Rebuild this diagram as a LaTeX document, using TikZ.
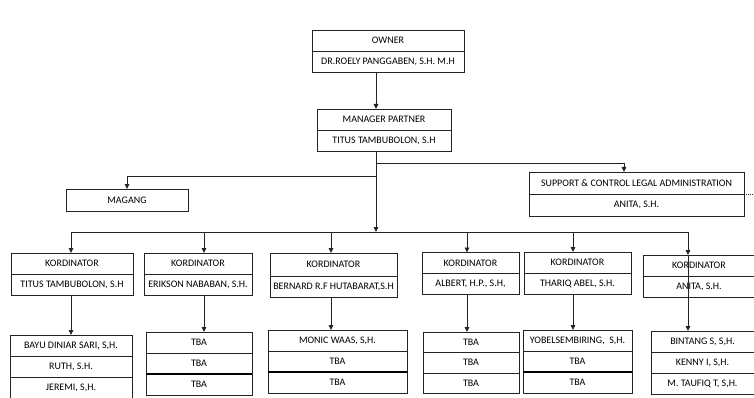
\documentclass[tikz,border=0pt]{standalone}
\usepackage{fontspec}
\setmainfont{Carlito}
\usetikzlibrary{positioning,arrows.meta}
\definecolor{lineclr}{RGB}{35,35,35}
\tikzset{
  row/.style={draw=lineclr, line width=0.9pt, minimum height=21, inner sep=0pt, outer sep=0pt,
    text=black, font=\fontsize{10}{11}\selectfont},
  arr/.style={draw=lineclr, line width=0.9pt, -{Triangle[length=5pt,width=4.5pt]}},
  link/.style={draw=lineclr, line width=0.9pt},
  heavy/.style={draw=black, line width=1.6pt}
}
\begin{document}
\begin{tikzpicture}[x=1pt,y=-1pt]
    \useasboundingbox (0,0) rectangle (754,398);
    % top of the chart
    \node[row, minimum width=152] (own) at (388,40.5) {OWNER};
    \node[row, minimum width=152, below=0pt of own] (ownnm) {DR.ROELY PANGGABEN, S.H. M.H};
    \node[row, minimum width=134] (mgr) at (384,119.5) {MANAGER PARTNER};
    \node[row, minimum width=134, below=0pt of mgr] (mgrnm) {TITUS TAMBUBOLON, S.H};
    \node[row, minimum width=122, minimum height=22] (mag) at (127,200) {MAGANG};
    \node[row, minimum width=215, minimum height=22] (sup) at (636.5,183) {SUPPORT \& CONTROL LEGAL ADMINISTRATION};
    \node[row, minimum width=215, minimum height=22, below=0pt of sup] (supnm) {ANITA, S.H.};
    \coordinate (spine) at (376,0);
    \coordinate (edge) at (754,0);
    \coordinate (bl) at (127,176);
    \coordinate (br) at (624,163);
    % bus to the coordinators
    \coordinate (a1) at (71,232);
    \coordinate (a2) at (204,232);
    \coordinate (a3) at (331,232);
    \coordinate (a4) at (467,232);
    \coordinate (a5) at (573,232);
    \coordinate (a6) at (688,232);
    % coordinators
    \node[row, minimum width=122] (k1) at (72,263.5) {KORDINATOR};
    \node[row, minimum width=122, below=0pt of k1] (k1nm) {TITUS TAMBUBOLON, S.H};
    \node[row, minimum width=108] (k2) at (198,263.5) {KORDINATOR};
    \node[row, minimum width=108, below=0pt of k2] (k2nm) {ERIKSON NABABAN, S.H.};
    \node[row, minimum width=127, minimum height=23] (k3) at (333.5,264.5) {KORDINATOR};
    \node[row, minimum width=127, below=0pt of k3] (k3nm) {BERNARD R.F HUTABARAT,S.H};
    \node[row, minimum width=97] (k4) at (470.5,263) {KORDINATOR};
    \node[row, minimum width=97, below=0pt of k4] (k4nm) {ALBERT, H.P., S.H,};
    \node[row, minimum width=107] (k5) at (577.5,262.5) {KORDINATOR};
    \node[row, minimum width=107, below=0pt of k5] (k5nm) {THARIQ ABEL, S.H.};
    \node[row, minimum width=112] (k6) at (699,265.5) {KORDINATOR};
    \node[row, minimum width=112, below=0pt of k6] (k6nm) {ANITA, S.H.};
    % staff under each coordinator
    \node[row, minimum width=122] (s1) at (71,345.5) {BAYU DINIAR SARI, S,H.};
    \node[row, minimum width=122, below=0pt of s1] (s1b) {RUTH, S.H.};
    \node[row, minimum width=122, below=0pt of s1b] (s1c) {JEREMI, S,H.};
    \node[row, minimum width=106] (s2) at (199,342.5) {TBA};
    \node[row, minimum width=106, below=0pt of s2] (s2b) {TBA};
    \node[row, minimum width=106, below=0pt of s2b] (s2c) {TBA};
    \node[row, minimum width=139] (s3) at (337.5,340.5) {MONIC WAAS, S,H.};
    \node[row, minimum width=139, below=0pt of s3] (s3b) {TBA};
    \node[row, minimum width=139, below=0pt of s3b] (s3c) {TBA};
    \node[row, minimum width=96, minimum height=20.5] (s4) at (471,342.25) {TBA};
    \node[row, minimum width=96, minimum height=20.5, below=0pt of s4] (s4b) {TBA};
    \node[row, minimum width=96, minimum height=20.5, below=0pt of s4b] (s4c) {TBA};
    \node[row, minimum width=109] (s5) at (577.5,340.5) {YOBELSEMBIRING,\ \ S,H.};
    \node[row, minimum width=109, below=0pt of s5] (s5b) {TBA};
    \node[row, minimum width=109, below=0pt of s5b] (s5c) {TBA};
    \node[row, minimum width=103] (s6) at (702.5,341.5) {BINTANG S, S,H.};
    \node[row, minimum width=103, below=0pt of s6] (s6b) {KENNY I, S,H.};
    \node[row, minimum width=103, below=0pt of s6b] (s6c) {M. TAUFIQ T, S,H.};
    \draw[heavy] (s2b.south west) -- (s2b.south east);
    \draw[heavy] (s3b.south west) -- (s3b.south east);
    \draw[heavy] (s5b.south west) -- (s5b.south east);
    % connectors
    \draw[arr] (ownnm.south -| spine) -- (mgr.north -| spine);
    \draw[arr] (mgrnm.south -| spine) -- (spine |- a1);
    \draw[link] (spine |- bl) -- (bl);
    \draw[arr] (bl) -- (mag.north);
    \draw[link] (spine |- br) -- (br);
    \draw[arr] (br) -- (sup.north -| br);
    \draw[link, densely dotted] (sup.south east) -- (sup.south east -| edge);
    \draw[link] (a1) -- (a6);
    \draw[arr] (a1) -- (k1.north -| a1);
    \draw[arr] (a2) -- (k2.north -| a2);
    \draw[arr] (a3) -- (k3.north -| a3);
    \draw[arr] (a4) -- (k4.north -| a4);
    \draw[arr] (a5) -- (k5.north -| a5);
    \draw[arr] (a6) -- (k6.north -| a6);
    \draw[arr] (k1nm.south -| a1) -- (s1.north -| a1);
    \draw[arr] (k2nm.south -| a2) -- (s2.north -| a2);
    \draw[arr] (k3nm.south -| a3) -- (s3.north -| a3);
    \draw[arr] (k4nm.south -| a4) -- (s4.north -| a4);
    \draw[arr] (k5nm.south -| a5) -- (s5.north -| a5);
    \draw[arr] (k6.north -| a6) -- (s6.north -| a6);
  \end{tikzpicture}
\end{document}
